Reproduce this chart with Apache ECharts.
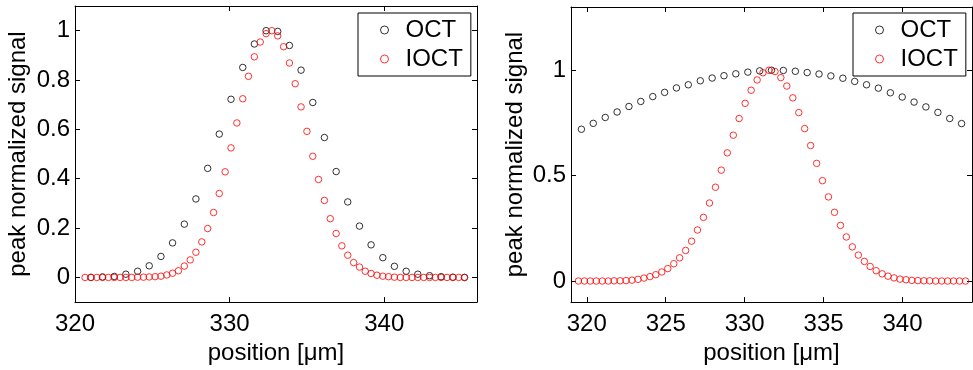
<!DOCTYPE html>
<html>
<head>
<meta charset="utf-8">
<script src="https://cdn.jsdelivr.net/npm/echarts@6/dist/echarts.min.js"></script>
<style>
  html, body { margin: 0; padding: 0; background: #fff; }
  #chart { width: 973px; height: 370px; }
</style>
</head>
<body>
<div id="chart"></div>
<script>
// ---- Left panel: probe positions (µm) and peak-normalized signals ----
const iLeftX = [320.65, 321.03, 321.41, 321.78, 322.16, 322.54, 322.92, 323.29, 323.67, 324.05,
  324.43, 324.80, 325.18, 325.56, 325.94, 326.31, 326.69, 327.07, 327.45, 327.82,
  328.20, 328.58, 328.96, 329.33, 329.71, 330.09, 330.47, 330.85, 331.22, 331.60,
  331.98, 332.36, 332.73, 333.11, 333.49, 333.87, 334.24, 334.62, 335.00, 335.38,
  335.75, 336.13, 336.51, 336.89, 337.26, 337.64, 338.02, 338.40, 338.77, 339.15,
  339.53, 339.91, 340.28, 340.66, 341.04, 341.42, 341.80, 342.17, 342.55, 342.93,
  343.31, 343.68, 344.06, 344.44, 344.82, 345.19];
const iLeftY = [0, 0, 0, 0, 0, 0, 0, 0, 0, 0.001,
  0.001, 0.002, 0.003, 0.005, 0.010, 0.017, 0.027, 0.046, 0.071, 0.102,
  0.144, 0.198, 0.263, 0.340, 0.428, 0.525, 0.626, 0.724, 0.815, 0.894,
  0.954, 0.988, 1.0, 0.979, 0.935, 0.869, 0.785, 0.691, 0.592, 0.491,
  0.397, 0.312, 0.238, 0.178, 0.128, 0.090, 0.060, 0.042, 0.025, 0.016,
  0.009, 0.005, 0.003, 0.001, 0, 0, 0, 0, 0, 0,
  0, 0, 0, 0, 0, 0];
const oLeftX = [321.03, 321.78, 322.54, 323.29, 324.05, 324.80, 325.56, 326.31, 327.07, 327.82,
  328.58, 329.33, 330.09, 330.85, 331.60, 332.36, 333.11, 333.87, 334.62, 335.38,
  336.13, 336.89, 337.64, 338.40, 339.15, 339.91, 340.66, 341.42, 342.17, 342.93,
  343.68, 344.44, 345.19];
const oLeftY = [0, 0.002, 0.004, 0.013, 0.025, 0.047, 0.085, 0.140, 0.216, 0.318,
  0.442, 0.581, 0.722, 0.851, 0.946, 1.0, 0.997, 0.940, 0.840, 0.709,
  0.567, 0.429, 0.306, 0.208, 0.132, 0.080, 0.045, 0.025, 0.013, 0.007,
  0.003, 0.001, 0];

// ---- Right panel ----
const iRightX = [319.47, 319.85, 320.22, 320.60, 320.98, 321.36, 321.73, 322.11, 322.49, 322.86,
  323.24, 323.62, 324.00, 324.37, 324.75, 325.13, 325.51, 325.88, 326.26, 326.64,
  327.01, 327.39, 327.77, 328.15, 328.52, 328.90, 329.28, 329.65, 330.03, 330.41,
  330.79, 331.16, 331.54, 331.92, 332.29, 332.67, 333.05, 333.43, 333.80, 334.18,
  334.56, 334.93, 335.31, 335.69, 336.07, 336.44, 336.82, 337.20, 337.58, 337.95,
  338.33, 338.71, 339.08, 339.46, 339.84, 340.22, 340.59, 340.97, 341.35, 341.72,
  342.10, 342.48, 342.86, 343.23, 343.61, 343.99];
const iRightY = [0, 0, 0, 0, 0, 0, 0.001, 0.001, 0.002, 0.004,
  0.008, 0.014, 0.021, 0.030, 0.043, 0.059, 0.082, 0.110, 0.145, 0.189,
  0.242, 0.302, 0.370, 0.445, 0.526, 0.608, 0.692, 0.771, 0.843, 0.905,
  0.954, 0.988, 1.0, 0.994, 0.965, 0.925, 0.869, 0.799, 0.723, 0.643,
  0.558, 0.476, 0.399, 0.326, 0.264, 0.209, 0.162, 0.123, 0.093, 0.069,
  0.049, 0.034, 0.023, 0.015, 0.009, 0.006, 0.003, 0.002, 0.001, 0.001,
  0, 0, 0, 0, 0, 0];
const oRightX = [319.66, 320.41, 321.17, 321.92, 322.67, 323.42, 324.18, 324.93, 325.68, 326.43,
  327.19, 327.94, 328.69, 329.44, 330.20, 330.95, 331.70, 332.45, 333.21, 333.96,
  334.71, 335.46, 336.22, 336.97, 337.72, 338.47, 339.23, 339.98, 340.73, 341.48,
  342.24, 342.99, 343.74];
const oRightY = [0.720, 0.748, 0.776, 0.802, 0.828, 0.852, 0.875, 0.895, 0.916, 0.931,
  0.950, 0.963, 0.974, 0.983, 0.991, 0.997, 1.0, 0.999, 0.995, 0.989,
  0.982, 0.973, 0.962, 0.947, 0.931, 0.915, 0.893, 0.873, 0.849, 0.826,
  0.800, 0.771, 0.747];

// ---- Tick values ----
const leftXTicks = [320, 330, 340];
const leftYTicks = [0, 0.2, 0.4, 0.6, 0.8, 1];
const rightXTicks = [320, 325, 330, 335, 340];
const rightYTicks = [0, 0.5, 1];

const seriesNames = ['OCT', 'IOCT'];
const xTitle = 'position [μm]';
const yTitle = 'peak normalized signal';

const FONT = 'Liberation Sans, Arial, Helvetica, sans-serif';
const BLACK = '#000000';
const RED = '#ff0000';

const zip = (xs, ys) => xs.map((x, i) => [x, ys[i]]);

function xAxisPair(grid, min, max, ticks) {
  const common = {
    type: 'value', gridIndex: grid, min: min, max: max,
    splitLine: { show: false },
    axisLine: { show: true, onZero: false, lineStyle: { color: BLACK, width: 1 } },
    axisTick: { show: true, inside: true, length: 5, customValues: ticks, lineStyle: { color: BLACK, width: 1 } }
  };
  return [
    Object.assign({}, common, {
      position: 'bottom',
      name: xTitle, nameLocation: 'middle', nameGap: 33,
      nameTextStyle: { fontFamily: FONT, fontSize: 24, color: BLACK },
      axisLabel: { show: true, customValues: ticks, margin: 10, fontFamily: FONT, fontSize: 24, color: BLACK }
    }),
    Object.assign({}, common, { position: 'top', axisLabel: { show: false } })
  ];
}

function yAxisPair(grid, min, max, ticks, gap) {
  const common = {
    type: 'value', gridIndex: grid, min: min, max: max,
    splitLine: { show: false },
    axisLine: { show: true, onZero: false, lineStyle: { color: BLACK, width: 1 } },
    axisTick: { show: true, inside: true, length: 5, customValues: ticks, lineStyle: { color: BLACK, width: 1 } }
  };
  return [
    Object.assign({}, common, {
      position: 'left',
      name: yTitle, nameLocation: 'middle', nameGap: gap,
      nameTextStyle: { fontFamily: FONT, fontSize: 24, color: BLACK },
      axisLabel: { show: true, customValues: ticks, margin: 5, fontFamily: FONT, fontSize: 24, color: BLACK }
    }),
    Object.assign({}, common, { position: 'right', axisLabel: { show: false } })
  ];
}

function scatter(name, color, xi, yi, data) {
  return {
    type: 'scatter', name: name, xAxisIndex: xi, yAxisIndex: yi,
    symbol: 'circle', symbolSize: 6.5,
    itemStyle: { color: 'rgba(0,0,0,0)', borderColor: color, borderWidth: 1 },
    emphasis: { disabled: true },
    data: data
  };
}

function legendAt(left) {
  return {
    left: left, top: 13, orient: 'vertical',
    padding: [5, 8, 5, 22], itemGap: 5,
    itemWidth: 32, itemHeight: 8, icon: 'circle',
    borderColor: BLACK, borderWidth: 1, backgroundColor: '#fff',
    textStyle: { fontFamily: FONT, fontSize: 24, color: BLACK },
    selectedMode: false,
    data: [
      { name: seriesNames[0], itemStyle: { color: 'rgba(0,0,0,0)', borderColor: BLACK, borderWidth: 1 } },
      { name: seriesNames[1], itemStyle: { color: 'rgba(0,0,0,0)', borderColor: RED, borderWidth: 1 } }
    ]
  };
}

const lx = xAxisPair(0, 320, 346, leftXTicks);
const rx = xAxisPair(1, 319, 344.4, rightXTicks);
const ly = yAxisPair(0, -0.1, 1.1, leftYTicks, 45);
const ry = yAxisPair(1, -0.1, 1.3, rightYTicks, 44);

const option = {
  animation: false,
  backgroundColor: '#fff',
  grid: [
    { left: 75, top: 6, width: 402, height: 306 },
    { left: 571, top: 7, width: 401, height: 305 }
  ],
  xAxis: [lx[0], lx[1], rx[0], rx[1]],
  yAxis: [ly[0], ly[1], ry[0], ry[1]],
  legend: [legendAt(358), legendAt(853)],
  series: [
    scatter(seriesNames[0], BLACK, 0, 0, zip(oLeftX, oLeftY)),
    scatter(seriesNames[1], RED, 0, 0, zip(iLeftX, iLeftY)),
    scatter(seriesNames[0], BLACK, 2, 2, zip(oRightX, oRightY)),
    scatter(seriesNames[1], RED, 2, 2, zip(iRightX, iRightY))
  ]
};

const chart = echarts.init(document.getElementById('chart'), null, { renderer: 'canvas' });
chart.setOption(option);
</script>
</body>
</html>
